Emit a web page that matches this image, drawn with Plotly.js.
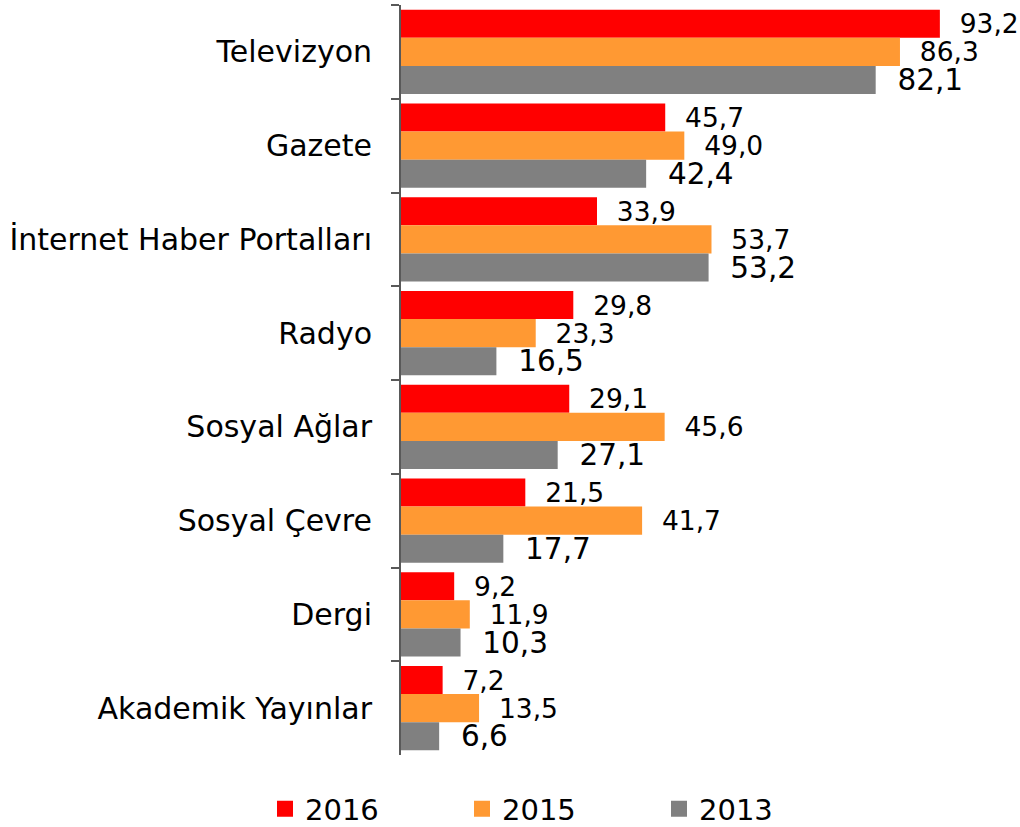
<!DOCTYPE html>
<html>
<head>
<meta charset="utf-8">
<script src="https://cdn.plot.ly/plotly-3.0.1.min.js"></script>
<style>html,body{margin:0;padding:0;background:#fff;}#chart{width:1020px;height:827px;}</style>
</head>
<body>
<div id="chart"></div>
<script>
const categories = ["Televizyon", "Gazete", "İnternet Haber Portalları", "Radyo", "Sosyal Ağlar", "Sosyal Çevre", "Dergi", "Akademik Yayınlar"];
const seriesNames = ["2016", "2015", "2013"];
const values2016 = [93.2, 45.7, 33.9, 29.8, 29.1, 21.5, 9.2, 7.2];
const values2015 = [86.3, 49.0, 53.7, 23.3, 45.6, 41.7, 11.9, 13.5];
const values2013 = [82.1, 42.4, 53.2, 16.5, 27.1, 17.7, 10.3, 6.6];

const colors = ["#FF0000", "#FF9933", "#808080"];
const labelSizes = [26.5, 26.5, 29.5];
const FONT = "DejaVu Sans, Verdana, sans-serif";
const fmt = v => "\u00a0\u00a0" + v.toFixed(1).replace(".", ",");

const allValues = [values2016, values2015, values2013];
const traces = allValues.map((vals, i) => ({
  type: "bar",
  orientation: "h",
  name: seriesNames[i],
  x: vals,
  y: categories,
  marker: {color: colors[i], line: {width: 0}},
  text: vals.map(fmt),
  textposition: "outside",
  textfont: {family: FONT, size: labelSizes[i], color: "#000"},
  outsidetextfont: {family: FONT, size: labelSizes[i], color: "#000"},
  cliponaxis: false,
  constraintext: "none",
  showlegend: false,
  hoverinfo: "none"
}));

// legend entries
seriesNames.forEach((n, i) => {
  traces.push({
    type: "scatter",
    mode: "markers",
    name: n,
    x: [null],
    y: [null],
    marker: {symbol: "square", size: 16, color: colors[i]},
    showlegend: true,
    hoverinfo: "none"
  });
});

const layout = {
  width: 1020,
  height: 827,
  margin: {l: 401, r: 20, t: 5, b: 72},
  paper_bgcolor: "#fff",
  plot_bgcolor: "#fff",
  barmode: "group",
  bargap: 0.1,
  bargroupgap: 0,
  font: {family: FONT, color: "#000"},
  xaxis: {
    range: [0, 103.6],
    visible: false,
    showgrid: false,
    zeroline: false,
    fixedrange: true
  },
  yaxis: {
    type: "category",
    autorange: "reversed",
    showline: true,
    linecolor: "#595959",
    linewidth: 2,
    ticks: "outside",
    tickson: "boundaries",
    ticklen: 8,
    tickwidth: 2,
    tickcolor: "#595959",
    ticklabelstandoff: 21,
    tickfont: {family: FONT, size: 30, color: "#000"},
    showgrid: false,
    zeroline: false,
    fixedrange: true
  },
  showlegend: true,
  legend: {
    orientation: "h",
    xref: "container",
    yref: "container",
    x: 265 / 1020,
    xanchor: "left",
    y: (827 - 809) / 827,
    yanchor: "middle",
    entrywidth: 152,
    entrywidthmode: "pixels",
    font: {family: FONT, size: 29, color: "#000"},
    bgcolor: "rgba(0,0,0,0)"
  }
};

Plotly.newPlot("chart", traces, layout, {displayModeBar: false, staticPlot: true});
</script>
</body>
</html>
